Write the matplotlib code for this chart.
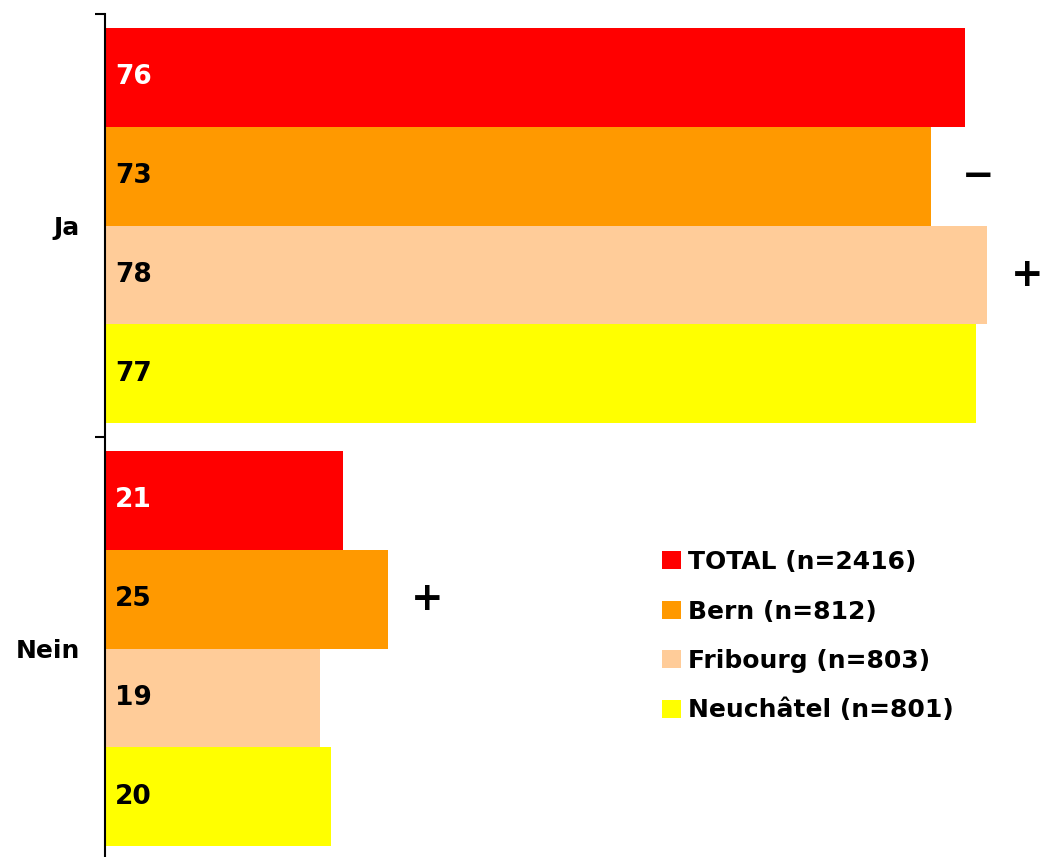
import matplotlib.pyplot as plt
import numpy as np

categories = ["Ja", "Nein"]
series = ["TOTAL (n=2416)", "Bern (n=812)", "Fribourg (n=803)", "Neuchâtel (n=801)"]
values = {
    "TOTAL (n=2416)": [76, 21],
    "Bern (n=812)": [73, 25],
    "Fribourg (n=803)": [78, 19],
    "Neuchâtel (n=801)": [77, 20],
}
# significance markers: (series, category index, sign)
markers = [("Bern (n=812)", 0, "\u2212"), ("Fribourg (n=803)", 0, "+"), ("Bern (n=812)", 1, "+")]

colors = ["#ff0000", "#ff9900", "#ffcc99", "#ffff00"]
label_colors = ["white", "black", "black", "black"]

plt.rcParams['font.family'] = ['DejaVu Sans']
plt.rcParams['font.weight'] = 'bold'

W, H = 1044, 857
fig = plt.figure(figsize=(W / 100, H / 100), dpi=100)
ax = fig.add_axes([105 / W, -3 / H, (W - 105) / W, 846 / H])

bh = 0.234
y = np.arange(len(categories))
handles = []
for i, s in enumerate(series):
    off = (i - 1.5) * bh
    b = ax.barh(y + off, values[s], height=bh, color=colors[i], label=s)
    handles.append(b)
    for j, v in enumerate(values[s]):
        ax.text(0.9, y[j] + off, str(v), color=label_colors[i], fontsize=19,
                fontweight='bold', va='center', ha='left')

for s, j, sign in markers:
    i = series.index(s)
    off = (i - 1.5) * bh
    v = values[s][j]
    dx = 4.2 if sign == "\u2212" else 3.5
    ax.text(v + dx, y[j] + off, sign, fontsize=28, fontweight='bold',
            va='center', ha='center')

ax.set_xlim(0, 83)
ax.set_ylim(1.5, -0.5)
for sp in ["top", "right", "bottom"]:
    ax.spines[sp].set_visible(False)
ax.spines["left"].set_linewidth(1.5)
ax.set_xticks([])
ax.set_yticks([-0.5, 0.5, 1.5])
ax.set_yticklabels([])
ax.tick_params(axis='y', which='major', length=7, width=1.5)
ax.set_yticks(y, minor=True)
ax.set_yticklabels(categories, minor=True, fontsize=18, fontweight='bold')
ax.tick_params(axis='y', which='minor', length=0, pad=18)

fig.legend(handles=handles, labels=series, loc='upper left',
           bbox_to_anchor=(652 / W, 1 - 540 / H), frameon=False,
           fontsize=18, handlelength=0.75, handleheight=0.75,
           handletextpad=0.3, labelspacing=1.02, borderaxespad=0)

fig.savefig("out.png", dpi=100)
